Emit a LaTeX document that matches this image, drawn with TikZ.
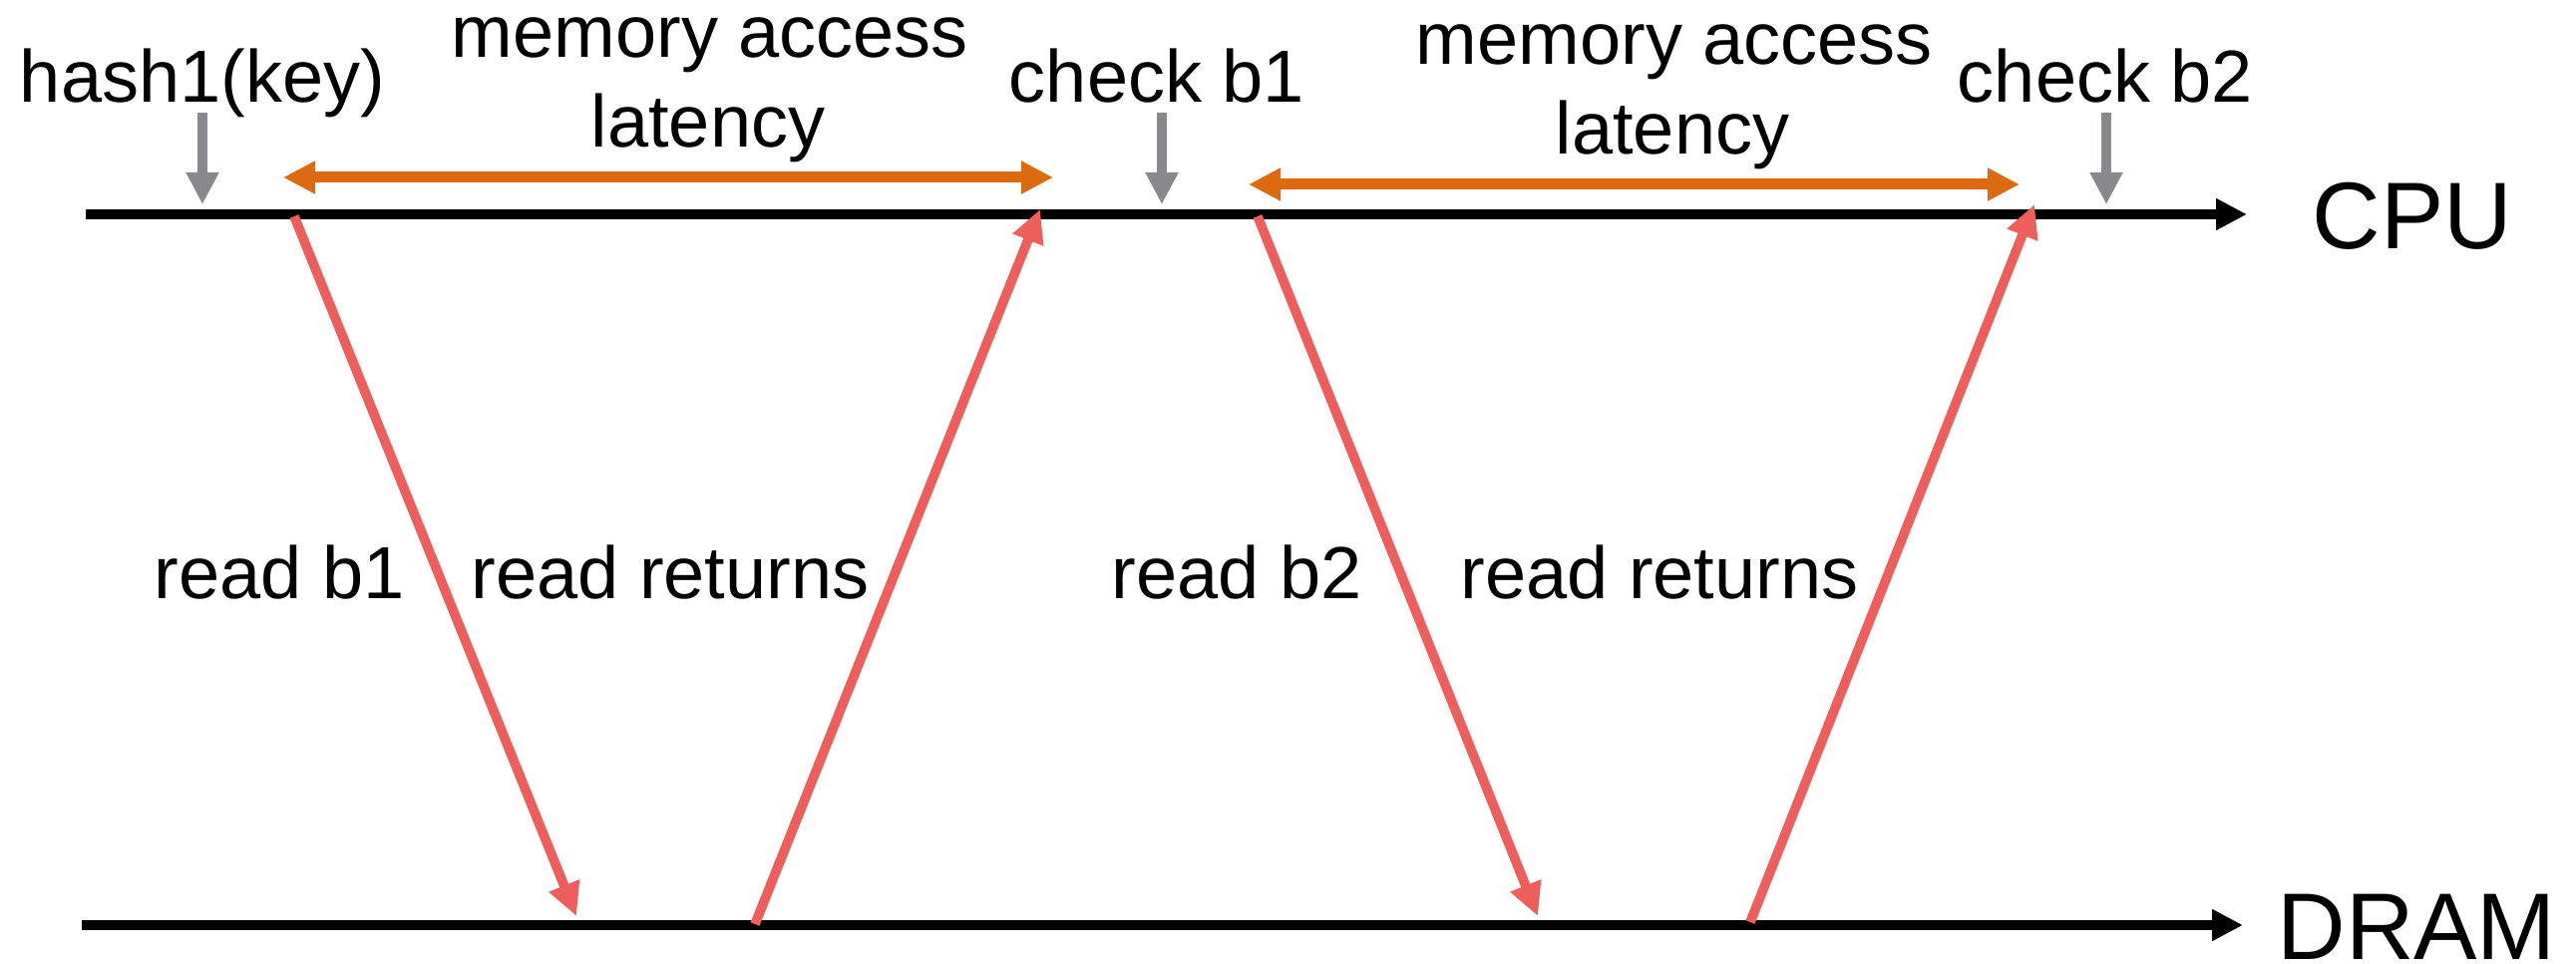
\documentclass[tikz,border=0pt]{standalone}
\usepackage{fontspec}
\setmainfont{Liberation Sans}
\usetikzlibrary{arrows.meta}
\definecolor{msgred}{HTML}{EE5F5B}
\definecolor{latorange}{HTML}{DE6A10}
\definecolor{markgray}{HTML}{87898D}
\begin{document}
\begin{tikzpicture}[x=0.5pt,y=-0.5pt,
  timeline/.style={line width=5pt,black,-{Triangle[length=15.5pt,width=15pt]}},
  msg/.style={line width=4.8pt,msgred,-{Triangle[length=16.5pt,width=15.5pt]}},
  span/.style={line width=5.5pt,latorange,{Triangle[length=16pt,width=15.5pt]}-{Triangle[length=16pt,width=15.5pt]}},
  eventarrow/.style={line width=4.6pt,markgray,-{Triangle[length=16pt,width=15.5pt]}},
  lbl/.style={inner sep=0pt,anchor=base,font=\fontsize{37}{44}\selectfont},
  big/.style={inner sep=0pt,anchor=base west,font=\fontsize{47.5}{56}\selectfont}]
\useasboundingbox (0,0) rectangle (2583,967);

% CPU and DRAM timelines
\coordinate (cpuL) at (86,215);
\coordinate (cpuR) at (2253,215);
\coordinate (dramL) at (82,928);
\coordinate (dramR) at (2249,928);
\draw[timeline] (cpuL) -- (cpuR);
\draw[timeline] (dramL) -- (dramR);
\node[big] (cpu) at (2318,250) {CPU};
\node[big] (dram) at (2283,962) {DRAM};

% CPU events
\node[lbl] (hash) at (203,103) {hash1(key)};
\node[lbl] (chk1) at (1160,103) {check b1};
\node[lbl] (chk2) at (2111,103) {check b2};
\coordinate (hashB) at (203,113);
\coordinate (chk1B) at (1165,113);
\coordinate (chk2B) at (2112,113);
\coordinate (hashT) at (203,205);
\coordinate (chk1T) at (1165,205);
\coordinate (chk2T) at (2112,205);
\draw[eventarrow] (hashB) -- (hashT);
\draw[eventarrow] (chk1B) -- (chk1T);
\draw[eventarrow] (chk2B) -- (chk2T);

% memory access latency spans
\node[lbl] (mem1) at (712,58) {memory access};
\node[lbl] (lat1) at (710,148) {latency};
\node[lbl] (mem2) at (1679,65) {memory access};
\node[lbl] (lat2) at (1677,155) {latency};
\coordinate (s1a) at (284,178);
\coordinate (s1b) at (1056,178);
\coordinate (s2a) at (1252,185);
\coordinate (s2b) at (2025,185);
\draw[span] (s1a) -- (s1b);
\draw[span] (s2a) -- (s2b);

% memory requests and replies
\coordinate (r1s) at (295,217);
\coordinate (r1e) at (578,919);
\coordinate (q1s) at (757,927);
\coordinate (q1e) at (1043,210);
\coordinate (r2s) at (1261,217);
\coordinate (r2e) at (1542,919);
\coordinate (q2s) at (1755,925);
\coordinate (q2e) at (2040,205);
\draw[msg] (r1s) -- (r1e);
\draw[msg] (q1s) -- (q1e);
\draw[msg] (r2s) -- (r2e);
\draw[msg] (q2s) -- (q2e);

\node[lbl] (rb1) at (280,600) {read b1};
\node[lbl] (rr1) at (672,600) {read returns};
\node[lbl] (rb2) at (1240,600) {read b2};
\node[lbl] (rr2) at (1664,600) {read returns};
\end{tikzpicture}
\end{document}
